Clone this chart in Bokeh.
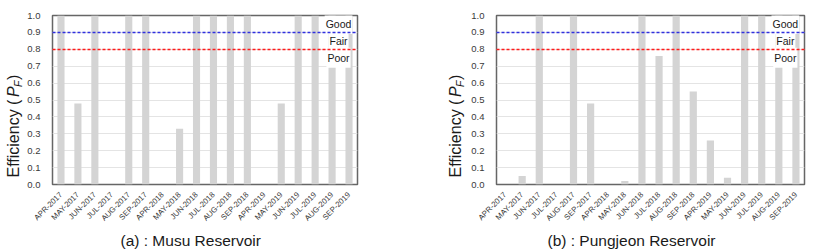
import math
from bokeh.plotting import figure
from bokeh.layouts import row
from bokeh.models import Label, Title, SingleIntervalTicker, PrintfTickFormatter, FactorRange
from bokeh.core.properties import value
from bokeh.embed import file_html
from bokeh.resources import INLINE

months = ["APR-2017", "MAY-2017", "JUN-2017", "JUL-2017", "AUG-2017", "SEP-2017",
          "APR-2018", "MAY-2018", "JUN-2018", "JUL-2018", "AUG-2018", "SEP-2018",
          "APR-2019", "MAY-2019", "JUN-2019", "JUL-2019", "AUG-2019", "SEP-2019"]
musu = [1.0, 0.48, 1.0, 0.0, 1.0, 1.0,
        0.0, 0.33, 1.0, 1.0, 1.0, 1.0,
        0.0, 0.48, 1.0, 1.0, 1.0, 1.0]
pungjeon = [0.0, 0.05, 1.0, 0.0, 1.0, 0.48,
            0.0, 0.02, 1.0, 0.76, 1.0, 0.55,
            0.26, 0.04, 1.0, 1.0, 1.0, 1.0]
thresholds = {"good": 0.9, "fair": 0.8}
zone_labels = [("Good", 0.95), ("Fair", 0.85), ("Poor", 0.75)]
titles = ["(a) : Musu Reservoir", "(b) : Pungjeon Reservoir"]
ylabel_parts = ["Efficiency (", "P", "F", ")"]

FONT = "Liberation Sans"
H = 249
TOP = 15
BOTTOM = 64


def ylabel_fig(width, xc):
    # data units = canvas pixels measured from the bottom of the window
    f = figure(width=width, height=H, x_range=(0, width), y_range=(BOTTOM, H - TOP),
               output_backend="svg", toolbar_location=None,
               min_border_left=0, min_border_right=0,
               min_border_top=TOP, min_border_bottom=BOTTOM)
    f.axis.visible = False
    f.grid.visible = False
    f.outline_line_color = None
    f.background_fill_color = "white"
    f.border_fill_color = "white"
    ang = math.pi / 2
    common = dict(angle=ang, text_align="left", text_baseline="middle",
                  text_font=value(FONT), text_color="#1a1a1a")
    f.text(x=[xc], y=[71], text=[ylabel_parts[0]], text_font_size="16px", **common)
    f.text(x=[xc], y=[152], text=[ylabel_parts[1]], text_font_size="16px",
           text_font_style="italic", **common)
    f.text(x=[xc + 4], y=[162], text=[ylabel_parts[2]], text_font_size="10.5px",
           text_font_style="italic", **common)
    f.text(x=[xc], y=[169], text=[ylabel_parts[3]], text_font_size="16px", **common)
    return f


def make(values, title, width, border_left, border_right, title_offset):
    p = figure(x_range=FactorRange(*months), y_range=(0, 1.0),
               width=width, height=H, output_backend="svg", toolbar_location=None,
               min_border_left=border_left, min_border_right=border_right,
               min_border_top=TOP, min_border_bottom=BOTTOM)
    p.vbar(x=months, top=values, width=0.42, color="#d4d4d4", line_color=None)

    p.xgrid.grid_line_color = None
    p.ygrid.grid_line_color = "#e4e4e4"
    p.ygrid.grid_line_width = 1
    p.yaxis.ticker = SingleIntervalTicker(interval=0.1, num_minor_ticks=0)
    p.yaxis.formatter = PrintfTickFormatter(format="%.1f")

    for ax in (p.xaxis, p.yaxis):
        ax.axis_line_color = None
        ax.major_tick_line_color = None
        ax.minor_tick_line_color = None
        ax.major_label_text_font = FONT
        ax.major_label_text_color = "#3a3a3a"
    p.yaxis.major_label_text_font_size = "9.5px"
    p.yaxis.major_label_standoff = 6
    p.xaxis.major_label_text_font_size = "7.8px"
    p.xaxis.major_label_orientation = math.pi / 4
    p.xaxis.major_label_standoff = 3

    p.outline_line_color = "#666666"
    p.outline_line_width = 1.5
    p.background_fill_color = "white"
    p.border_fill_color = "white"

    for txt, yv in zone_labels:
        p.add_layout(Label(x=16.88, y=yv, text=txt, text_align="center", text_baseline="middle",
                           text_font=FONT, text_font_size="10.5px", text_color="#1a1a1a",
                           background_fill_color="white",
                           padding=dict(left=1, right=1, top=4, bottom=4)))

    r1 = p.hspan(y=[thresholds["good"]], line_color="#3030e0", line_dash="3 2", line_width=1.3)
    r2 = p.hspan(y=[thresholds["fair"]], line_color="#ff1a1a", line_dash="3 2", line_width=1.3)
    r1.level = "overlay"
    r2.level = "overlay"

    p.add_layout(Title(text=title, align="left", offset=title_offset,
                       text_font=FONT, text_font_size="15.5px", text_font_style="normal",
                       text_color="#1a1a1a", standoff=2), "below")
    return p


yl1 = ylabel_fig(24, 13)
p1 = make(musu, titles[0], 384, 24, 51, 68)
yl2 = ylabel_fig(60, 47)
p2 = make(pungjeon, titles[1], 348, 24, 12, 51)
layout = row(yl1, p1, yl2, p2, spacing=0)

open("out.html", "w").write(file_html(layout, INLINE))
